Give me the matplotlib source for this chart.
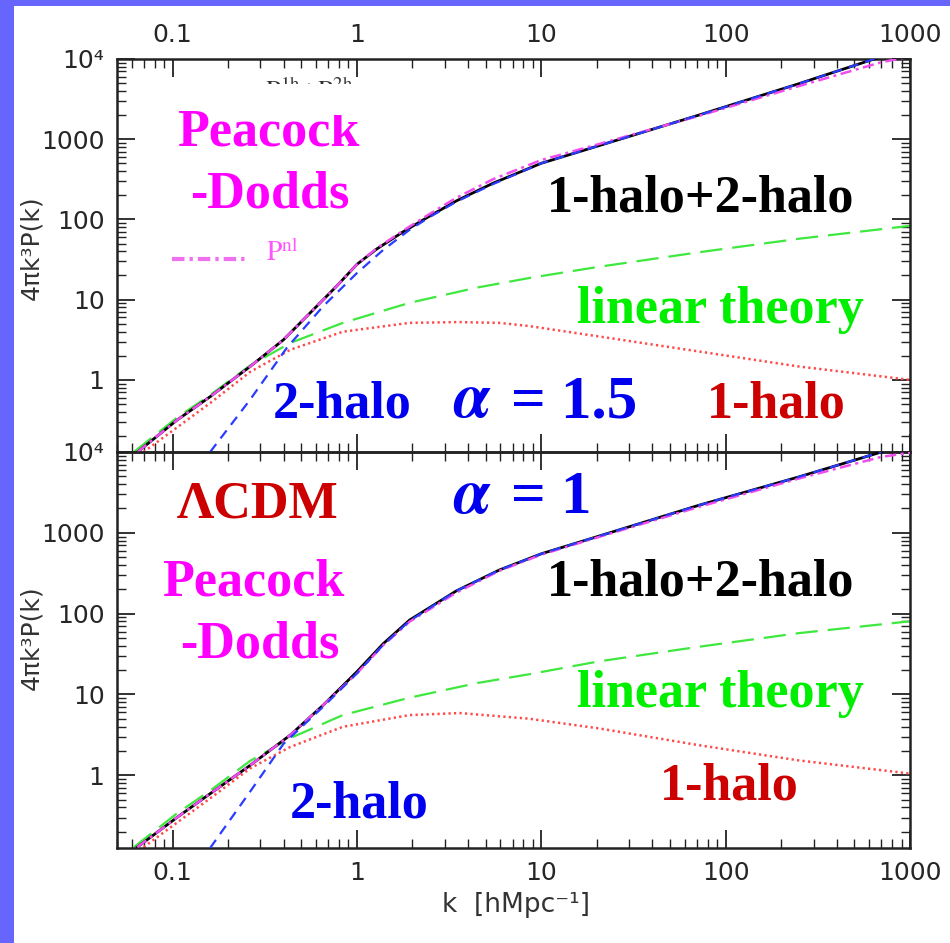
import numpy as np
import matplotlib
matplotlib.use("Agg")
import matplotlib.pyplot as plt
from matplotlib.ticker import LogLocator, NullFormatter, FixedLocator, FixedFormatter
from matplotlib.patches import Rectangle
from matplotlib.lines import Line2D

plt.rcParams['mathtext.fontset'] = 'stix'

# ---------------- data ----------------
xticks = [0.1, 1, 10, 100, 1000]
xticklabels = ['0.1', '1', '10', '100', '1000']
yticks = [1, 10, 100, 1000, 1e4]
yticklabels = ['1', '10', '100', '1000', '10⁴']

# top panel (alpha = 1.5)
k_tot_a = [0.0646, 0.106, 0.160, 0.264, 0.400, 0.557, 0.776, 1.0, 1.28, 1.78, 2.48, 3.46, 5.46, 10, 20.6, 71.4, 248, 700]
p_tot_a = [0.126, 0.316, 0.617, 1.47, 3.16, 6.81, 14.7, 27.5, 42.7, 70.0, 110, 170, 282, 501, 832, 1995, 4898, 10715]

k_2h_a = [0.160, 0.263, 0.417, 0.658, 1.0, 1.39, 1.93, 2.48, 3.46, 5.46, 10, 20.6, 71.4, 248, 700]
p_2h_a = [0.126, 0.562, 2.51, 8.32, 21.4, 41.7, 74.1, 107, 166, 275, 501, 832, 1995, 4898, 10715]

k_lin_a = [0.0617, 0.106, 0.160, 0.264, 0.435, 0.839, 1.93, 4.46, 8.61, 20.6, 71.4, 251, 1000]
p_lin_a = [0.126, 0.339, 0.646, 1.51, 2.88, 5.13, 9.12, 14.1, 18.6, 25.7, 38.9, 57.5, 83.2]

k_1h_a = [0.0697, 0.160, 0.264, 0.435, 0.839, 1.93, 3.55, 5.93, 8.61, 20.6, 71.4, 248, 1000]
p_1h_a = [0.126, 0.513, 1.26, 2.37, 3.98, 5.13, 5.25, 5.13, 4.68, 3.47, 2.26, 1.47, 1.0]

k_pnl_a = [0.0646, 0.106, 0.160, 0.264, 0.400, 0.557, 0.776, 1.0, 1.28, 1.78, 2.48, 3.46, 5.46, 10, 20.6, 71.4, 248, 700, 1000]
p_pnl_a = [0.126, 0.316, 0.617, 1.47, 3.16, 6.81, 14.7, 27.5, 43.5, 72.4, 117, 186, 316, 550, 871, 1950, 4571, 9120, 10715]

# bottom panel (alpha = 1)
k_tot_b = [0.0644, 0.106, 0.160, 0.264, 0.435, 0.658, 1.0, 1.39, 1.93, 3.46, 5.93, 10, 20.6, 71.4, 248, 700]
p_tot_b = [0.129, 0.302, 0.592, 1.33, 3.14, 7.41, 19.1, 42.5, 83.2, 191, 347, 550, 912, 2188, 4898, 10000]

k_2h_b = [0.160, 0.264, 0.400, 0.658, 1.0, 1.39, 1.93, 3.46, 5.93, 10, 20.6, 71.4, 248, 700]
p_2h_b = [0.126, 0.631, 2.45, 7.08, 18.2, 41.0, 81.3, 191, 347, 550, 912, 2188, 4898, 10000]

k_lin_b = [0.0617, 0.106, 0.160, 0.264, 0.435, 0.839, 1.93, 4.46, 8.61, 20.6, 71.4, 251, 1000]
p_lin_b = [0.129, 0.339, 0.646, 1.51, 2.88, 5.56, 9.12, 13.8, 17.8, 25.7, 38.9, 57.5, 80.4]

k_1h_b = [0.0697, 0.160, 0.264, 0.435, 0.839, 1.93, 3.61, 5.93, 8.61, 20.6, 71.4, 248, 1000]
p_1h_b = [0.129, 0.518, 1.22, 2.24, 3.98, 5.56, 5.89, 5.37, 5.01, 3.80, 2.36, 1.53, 1.05]

k_pnl_b = [0.0644, 0.106, 0.160, 0.264, 0.435, 0.658, 1.0, 1.39, 1.93, 3.46, 5.93, 10, 20.6, 71.4, 248, 700, 1000]
p_pnl_b = [0.129, 0.302, 0.592, 1.33, 3.14, 7.41, 18.2, 40.7, 79.4, 182, 339, 537, 891, 2089, 4677, 8710, 9772]

# ---------------- figure ----------------
W, H = 950, 943
fig = plt.figure(figsize=(9.5, 9.43), dpi=100)
fig.patch.set_facecolor('white')


def fx(x):
    return x / W


def fy(y):
    return 1 - y / H


border = '#6666ff'
fig.patches.append(Rectangle((0, 0), fx(14), 1, transform=fig.transFigure,
                             facecolor=border, edgecolor='none', zorder=0))
fig.patches.append(Rectangle((0, fy(6)), 1, 6 / H, transform=fig.transFigure,
                             facecolor=border, edgecolor='none', zorder=0))

L, R = 117, 910
ax1 = fig.add_axes([fx(L), fy(452), fx(R) - fx(L), fy(59) - fy(452)])
ax2 = fig.add_axes([fx(L), fy(848), fx(R) - fx(L), fy(452) - fy(848)])

c_tot = 'black'
c_2h = '#2a3cff'
c_lin = '#3ee83e'
c_1h = '#ff4a4a'
c_pnl = '#f04cf0'

for ax, d in ((ax1, (k_tot_a, p_tot_a, k_2h_a, p_2h_a, k_lin_a, p_lin_a, k_1h_a, p_1h_a, k_pnl_a, p_pnl_a)),
              (ax2, (k_tot_b, p_tot_b, k_2h_b, p_2h_b, k_lin_b, p_lin_b, k_1h_b, p_1h_b, k_pnl_b, p_pnl_b))):
    kt, pt, k2, p2, kl, pl, k1, p1, kp, pp = d
    ax.set_xscale('log')
    ax.set_yscale('log')
    ax.plot(kl, pl, color=c_lin, lw=1.6, linestyle=(0, (10, 4.5)), zorder=2)
    ax.plot(k1, p1, color=c_1h, lw=1.8, linestyle=(0, (0.9, 1.3)), zorder=2)
    ax.plot(kt, pt, color=c_tot, lw=2.0, zorder=3)
    ax.plot(kp, pp, color=c_pnl, lw=1.8, linestyle=(0, (4.5, 1.8, 1.2, 1.8)), zorder=4)
    ax.plot(k2, p2, color=c_2h, lw=1.6, linestyle=(0, (4.5, 3.2)), zorder=5)
    ax.set_xlim(0.05, 1000)
    ax.set_ylim(0.126, 1e4)
    ax.xaxis.set_major_locator(FixedLocator(xticks))
    ax.xaxis.set_major_formatter(FixedFormatter(xticklabels))
    ax.yaxis.set_major_locator(FixedLocator(yticks))
    ax.yaxis.set_major_formatter(FixedFormatter(yticklabels))
    ax.xaxis.set_minor_locator(LogLocator(base=10, subs=np.arange(2, 10), numticks=30))
    ax.yaxis.set_minor_locator(LogLocator(base=10, subs=np.arange(2, 10), numticks=30))
    ax.xaxis.set_minor_formatter(NullFormatter())
    ax.yaxis.set_minor_formatter(NullFormatter())
    ax.tick_params(which='both', direction='in', top=True, right=True, colors='#222222',
                   labelcolor='#262626', labelsize=18)
    ax.tick_params(which='major', length=13, width=1.3, pad=9)
    ax.tick_params(which='minor', length=6.5, width=1.0)
    for lab in ax.get_xticklabels() + ax.get_yticklabels():
        lab.set_family('DejaVu Sans')
    for s in ax.spines.values():
        s.set_linewidth(1.8)
        s.set_color('#222222')
    ax.patch.set_alpha(0)

ax1.tick_params(axis='x', labeltop=True, labelbottom=False)
ax2.tick_params(axis='x', labeltop=False, labelbottom=True)

# axis labels
fig.text(fx(31), fy(248), '4πk³P(k)', rotation=90, ha='center', va='center',
         fontsize=18, family='DejaVu Sans', color='#333333')
fig.text(fx(31), fy(638), '4πk³P(k)', rotation=90, ha='center', va='center',
         fontsize=18, family='DejaVu Sans', color='#333333')
fig.text(fx(516), fy(905), 'k  [hMpc⁻¹]', ha='center', va='center',
         fontsize=19, family='DejaVu Sans', color='#333333')

# partially hidden legend entry
fig.text(fx(265), fy(77), r'P$^{\rm 1h}$+P$^{\rm 2h}$', ha='left', va='top',
         fontsize=19, family='STIXGeneral', color='#333333', zorder=3)
fig.patches.append(Rectangle((fx(240), fy(115)), fx(150), 31 / H, transform=fig.transFigure,
                             facecolor='white', edgecolor='none', zorder=4))

# P^nl legend
fig.add_artist(Line2D([fx(172), fx(247)], [fy(259), fy(259)], transform=fig.transFigure,
                      color='#f070f0', lw=3.0, linestyle=(0, (3, 1.2, 0.8, 1.2))))
fig.text(fx(266), fy(261), r'P$^{\rm nl}$', ha='left', va='baseline',
         fontsize=20, family='STIXGeneral', color='#ff55ff')

serif = dict(family='Liberation Serif', weight='bold', fontsize=37.5, ha='left', va='baseline')
MAG, RED, GRN, BLU = '#ff00ff', '#cc0000', '#00ee00', '#0000ee'
alpha_kw = dict(family='STIXGeneral', style='italic', weight='bold', fontsize=46,
                ha='left', va='baseline', color=BLU)
eq_kw = dict(family='Liberation Serif', weight='bold', fontsize=44, ha='left',
             va='baseline', color=BLU)

# top panel annotations
fig.text(fx(177), fy(145), 'Peacock', color=MAG, **serif)
fig.text(fx(190), fy(208), '-Dodds', color=MAG, **serif)
fig.text(fx(547), fy(212), '1-halo+2-halo', color='black', **serif)
fig.text(fx(577), fy(323), 'linear theory', color=GRN, **serif)
fig.text(fx(707), fy(418), '1-halo', color=RED, **serif)
fig.text(fx(273), fy(418), '2-halo', color=BLU, **serif)
fig.text(fx(453), fy(417), 'α', **alpha_kw)
fig.text(fx(511), fy(417), '= 1.5', **eq_kw)

# bottom panel annotations
fig.text(fx(177), fy(517), 'ΛCDM', color=RED, **serif)
fig.text(fx(453), fy(513), 'α', **alpha_kw)
fig.text(fx(511), fy(513), '= 1', **eq_kw)
fig.text(fx(162), fy(595), 'Peacock', color=MAG, **serif)
fig.text(fx(180), fy(658), '-Dodds', color=MAG, **serif)
fig.text(fx(547), fy(595), '1-halo+2-halo', color='black', **serif)
fig.text(fx(577), fy(707), 'linear theory', color=GRN, **serif)
fig.text(fx(660), fy(800), '1-halo', color=RED, **serif)
fig.text(fx(290), fy(818), '2-halo', color=BLU, **serif)

fig.savefig('out.png', dpi=100)
